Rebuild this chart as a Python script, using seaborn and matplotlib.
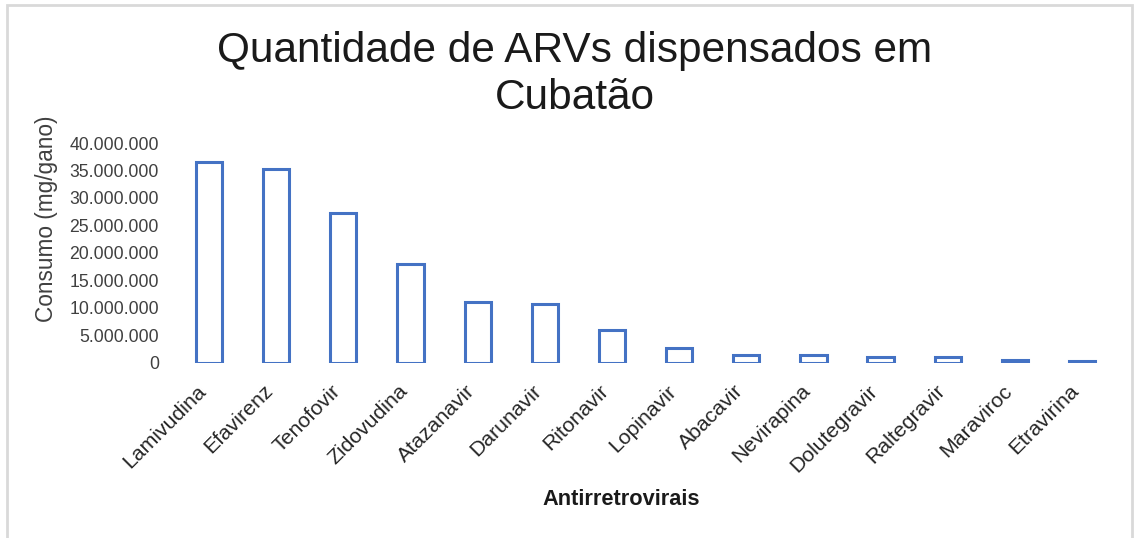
import pandas as pd
import numpy as np
import matplotlib
matplotlib.use("Agg")
import matplotlib.pyplot as plt
import matplotlib.transforms as mtransforms
from matplotlib.patches import Rectangle
from matplotlib.ticker import FuncFormatter, MultipleLocator
import seaborn as sns

# data (mg/gano)
arvs = ["Lamivudina", "Efavirenz", "Tenofovir", "Zidovudina", "Atazanavir",
        "Darunavir", "Ritonavir", "Lopinavir", "Abacavir", "Nevirapina",
        "Dolutegravir", "Raltegravir", "Maraviroc", "Etravirina"]
consumo = [36_500_000, 35_200_000, 27_200_000, 18_000_000, 11_000_000,
           10_800_000, 6_000_000, 2_800_000, 1_400_000, 1_400_000,
           1_000_000, 1_000_000, 600_000, 400_000]

df = pd.DataFrame({"arv": arvs, "consumo": consumo})

sns.set_style("white")
plt.rcParams["font.family"] = ["Liberation Sans", "DejaVu Sans"]

fig = plt.figure(figsize=(11.34, 5.38), dpi=100)
ax = fig.add_axes([0.1547, 0.3253, 0.8291, 0.4089])

sns.barplot(data=df, x="arv", y="consumo", ax=ax, fill=False,
            color="#4472C4", linewidth=2.2, width=0.39)

ax.set_ylim(0, 40_000_000)
ax.set_xlim(-0.5, len(arvs) - 0.5)
ax.yaxis.set_major_locator(MultipleLocator(5_000_000))
ax.yaxis.set_major_formatter(FuncFormatter(lambda v, p: f"{int(v):,}".replace(",", ".")))
ax.tick_params(axis="y", labelsize=12.7, labelcolor="#404040", length=0, pad=12)
ax.tick_params(axis="x", labelsize=15.3, labelcolor="#262626", length=0, pad=18)

offset = mtransforms.ScaledTranslation(-6 / 100, 0, fig.dpi_scale_trans)
for lbl in ax.get_xticklabels():
    lbl.set_rotation(45)
    lbl.set_ha("right")
    lbl.set_va("center")
    lbl.set_rotation_mode("anchor")
    lbl.set_transform(lbl.get_transform() + offset)

sns.despine(ax=ax, left=True, bottom=True)

ax.set_ylabel("Consumo (mg/gano)", fontsize=16.3, color="#404040")
ax.yaxis.label.set_va("center")
ax.yaxis.set_label_coords(-0.1366, 0.657)
ax.set_xlabel("Antirretrovirais", fontsize=15.7, fontweight="bold", color="#1a1a1a")
ax.xaxis.label.set_va("center")
ax.xaxis.set_label_coords(0.474, -0.62)

fig.text(0.507, 0.862, "Quantidade de ARVs dispensados em\nCubatão",
         ha="center", va="center", fontsize=30.5, color="#1a1a1a", linespacing=1.22)

# thin grey frame round the chart area
fig.patches.append(Rectangle((7 / 1134, -0.1), (1132 - 7) / 1134, 1.1 - 5 / 538,
                             transform=fig.transFigure, fill=False,
                             edgecolor="#d9d9d9", linewidth=2))

fig.savefig("out.png", dpi=100, facecolor="white")
